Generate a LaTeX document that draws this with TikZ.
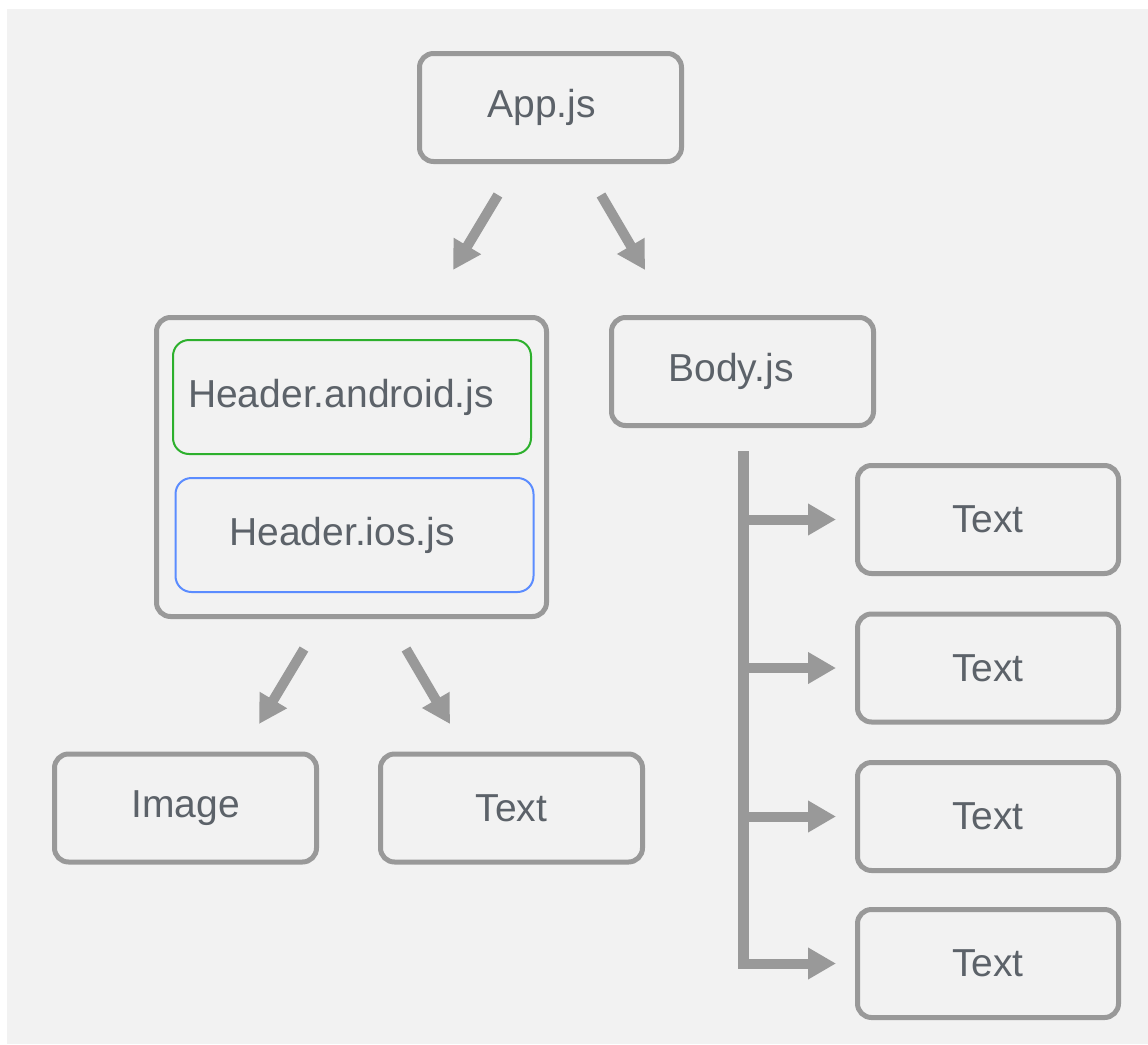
\documentclass[tikz,border=0pt]{standalone}
\usepackage{fontspec}
\setmainfont{Liberation Sans}
\usetikzlibrary{arrows.meta}
\definecolor{boxgray}{HTML}{999999}
\definecolor{bggray}{HTML}{F2F2F2}
\definecolor{txtgray}{HTML}{5C6269}
\definecolor{andgreen}{HTML}{2DB02D}
\definecolor{iosblue}{HTML}{5B8CFF}
\newcommand{\padr}[1]{\rule{#1}{0pt}}
\begin{document}
\begin{tikzpicture}[x=1pt,y=-1pt,
  box/.style={draw=boxgray, line width=5pt, rounded corners=14pt, inner sep=0pt,
    text=txtgray, font=\fontsize{39}{42}\selectfont, minimum width=262pt, minimum height=108pt},
  inbox/.style={line width=2pt, rounded corners=16pt, inner sep=0pt,
    text=txtgray, font=\fontsize{39}{42}\selectfont, minimum width=358pt, minimum height=114pt},
  bigarrow/.style={draw=boxgray, line width=10pt, -{Triangle[width=30pt,length=28pt]}},
  bar/.style={draw=boxgray, line width=11pt}
]
\useasboundingbox (0,0) rectangle (1148,1044);
\fill[white] (0,0) rectangle (1148,1044);
\fill[bggray] (7,9) rectangle (1148,1044);

\node[box] (app) at (550.5,107.5) {App.js\padr{18pt}};
\node[box, minimum width=390pt, minimum height=299pt] (header) at (351.5,467) {};
\node[inbox, draw=andgreen] (android) at (352,397) {Header.android.js\padr{22pt}};
\node[inbox, draw=iosblue] (ios) at (354.5,535) {Header.ios.js\padr{25pt}};
\node[box] (body) at (742.5,371.5) {Body.js\padr{23pt}};
\node[box] (image) at (185.5,808) {Image};
\node[box] (htext) at (511.5,808) {Text};
\node[box, minimum width=261pt] (t1) at (988,519.5) {Text};
\node[box, minimum width=261pt] (t2) at (988,668) {Text};
\node[box, minimum width=261pt] (t3) at (988,816.5) {Text};
\node[box, minimum width=261pt] (t4) at (988,963.5) {Text};

% arrows from App.js
\coordinate (a1s) at (498,195);
\coordinate (a1e) at (453,270);
\coordinate (a2s) at (601,195);
\coordinate (a2e) at (645,270);
\draw[bigarrow] (a1s) -- (a1e);
\draw[bigarrow] (a2s) -- (a2e);

% arrows from header
\coordinate (h1s) at (304,649);
\coordinate (h1e) at (259,724);
\coordinate (h2s) at (406,649);
\coordinate (h2e) at (450,724);
\draw[bigarrow] (h1s) -- (h1e);
\draw[bigarrow] (h2s) -- (h2e);

% body tree
\coordinate (bartop) at (743.5,451);
\coordinate (barbot) at (743.5,969);
\draw[bar] (bartop) -- (barbot);
\foreach \n/\y in {t1/519.5, t2/668, t3/816.5, t4/963.5}{
  \coordinate (s\n) at (743.5,\y);
  \coordinate (e\n) at (836,\y);
  \draw[bigarrow] (s\n) -- (e\n);
}
\end{tikzpicture}
\end{document}
